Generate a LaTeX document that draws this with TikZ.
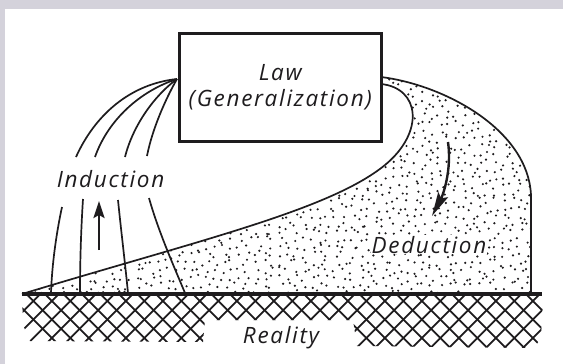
\documentclass[tikz,border=0pt]{standalone}
\usepackage{fontspec}
\setmainfont[LetterSpace=7.5]{Open Sans}
\usepackage{tikz}
\usetikzlibrary{arrows.meta,calc}
\definecolor{framegrey}{RGB}{212, 210, 219}
\definecolor{inkdark}{RGB}{30, 28, 30}

\begin{document}
\begin{tikzpicture}[
    x=1pt, y=-1pt,
    every node/.style={font=\fontsize{22.5}{26}\selectfont\itshape, text=inkdark, align=center},
    lawbox/.style={rectangle, draw=inkdark, fill=white, line width=3pt, minimum width=201.5pt, minimum height=107.5pt, inner sep=0pt},
    fieldline/.style={draw=inkdark, line width=1.7pt},
    groundline/.style={draw=inkdark, line width=3.5pt},
    hatchline/.style={draw=inkdark, line width=1.8pt},
    flowarrow/.style={draw=inkdark, line width=2.4pt, -{Stealth[length=17pt, width=11pt, inset=3pt]}},
    dedarrow/.style={draw=inkdark, line width=2.4pt, -{Stealth[length=24pt, width=11pt, inset=4pt]}}
]
    \fill[framegrey] (0,0) rectangle (563,364);
    \fill[white] (5,9) rectangle (563,364);
    \useasboundingbox (0,0) rectangle (563,364);

    \coordinate (gL) at (22,294);
    \coordinate (gR) at (542,294);
    \coordinate (bend) at (385,165);
    \coordinate (inTop) at (381,84);
    \coordinate (outTop) at (381,77);
    \coordinate (outSide) at (531,195);
    \coordinate (outFoot) at (531,294);

    % stippled deduction region
    \begin{scope}
        \clip (gL) .. controls (200,240) and (330,210) .. (bend)
              .. controls (425,132) and (420,88) .. (inTop) -- (outTop)
              .. controls (445,85) and (528,130) .. (outSide) -- (outFoot) -- cycle;
        \pgfmathsetseed{17}
        \foreach \i in {0,...,64}
            \foreach \j in {0,...,28}
                \fill[inkdark] ({24+8*\i+3.5*rand},{78+7.7*\j+3.5*rand}) circle (1.2pt);
    \end{scope}

    % reality
    \begin{scope}
        \clip (22,294) -- (543,294) -- (541,338) -- (534,348) -- (357,346) -- (353,320)
              -- (205,320) -- (203,342) -- (30,341) -- (23,325) -- cycle;
        \foreach \k in {0,...,34} {
            \draw[hatchline] ({-3.7+18.5*\k},282.5) -- ++(75,75);
            \draw[hatchline] ({-3.7+18.5*\k},282.5) -- ++(-75,75);
        }
    \end{scope}

    \node[lawbox] (law) at (280.25,87.25) {Law\\(Generalization)};

    \coordinate (fan) at (177,79);
    \coordinate (u1) at (76,157);
    \coordinate (u2) at (95,157);
    \coordinate (u3) at (125,157);
    \coordinate (u4) at (147,156);
    \coordinate (l1) at (62,207);
    \coordinate (l2) at (83,199);
    \coordinate (l3) at (118,200);
    \coordinate (l4) at (149,198);
    \coordinate (f1) at (51,293);
    \coordinate (f2) at (80,293);
    \coordinate (f3) at (128,293);
    \coordinate (f4) at (185,293);

    \draw[fieldline] (fan) .. controls (130,84) and (95,115) .. (u1);
    \draw[fieldline] (fan) .. controls (140,91) and (108,120) .. (u2);
    \draw[fieldline] (fan) .. controls (155,95) and (133,125) .. (u3);
    \draw[fieldline] (fan) .. controls (165,100) and (152,130) .. (u4);
    \draw[fieldline] (l1) .. controls (56,235) and (52,265) .. (f1);
    \draw[fieldline] (l2) .. controls (81,230) and (80,262) .. (f2);
    \draw[fieldline] (l3) .. controls (121,230) and (125,262) .. (f3);
    \draw[fieldline] (l4) .. controls (158,230) and (172,262) .. (f4);

    \draw[fieldline] (gL) .. controls (200,240) and (330,210) .. (bend)
        .. controls (425,132) and (420,88) .. (inTop);
    \draw[fieldline] (outTop) .. controls (445,85) and (528,130) .. (outSide) -- (outFoot);
    \draw[groundline] (gL) -- (gR);

    \node[anchor=base] (induction) at (110.5,187) {Induction};
    \node[anchor=base, fill=white, inner sep=0.5pt] (deduction) at (429,253) {Deduction};
    \node[anchor=base] (reality) at (281,343) {Reality};

    \coordinate (upTail) at (99,250);
    \coordinate (upTip) at (99,201);
    \coordinate (downTail) at (448,142);
    \coordinate (downTip) at (432,216);
    \draw[flowarrow] (upTail) -- (upTip);
    \draw[dedarrow] (downTail) .. controls (452,170) and (443,195) .. (downTip);
\end{tikzpicture}
\end{document}
